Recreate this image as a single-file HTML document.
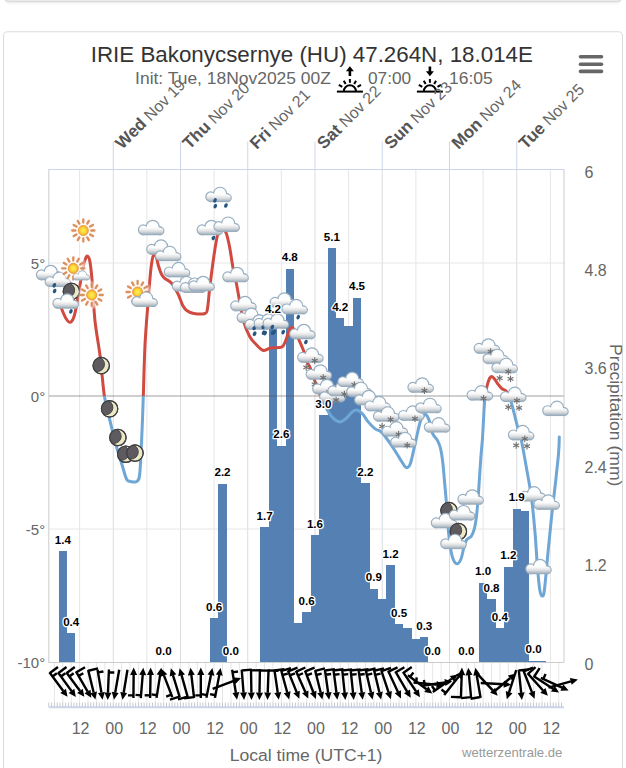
<!DOCTYPE html><html><head><meta charset="utf-8"><style>html,body{margin:0;padding:0;background:#fff;overflow:hidden}svg{display:block}</style></head><body><svg width="626" height="768" viewBox="0 0 626 768"><rect x="4.5" y="-30" width="617" height="34.5" rx="5" fill="#f7f7f7" stroke="none"/><rect x="4.5" y="-30" width="617" height="33" rx="4.5" fill="#efefef" stroke="none"/><rect x="4.5" y="-30" width="617" height="31.5" rx="4" fill="#eaeaea" stroke="#dadada" stroke-width="1"/><rect x="3.5" y="31.7" width="619" height="780" rx="4" fill="#fff" stroke="#dcdcdc" stroke-width="1.1"/><text x="90.77" y="61.7" font-family="Liberation Sans, sans-serif" font-size="22" fill="#333" textLength="442.16" lengthAdjust="spacingAndGlyphs">IRIE Bakonycsernye (HU) 47.264N, 18.014E</text><text x="135.1" y="83.6" font-family="Liberation Sans, sans-serif" font-size="17.4" fill="#666" textLength="195.8" lengthAdjust="spacingAndGlyphs">Init: Tue, 18Nov2025 00Z</text><text x="368.0" y="83.6" font-family="Liberation Sans, sans-serif" font-size="17.4" fill="#666" textLength="43.23" lengthAdjust="spacingAndGlyphs">07:00</text><text x="449.0" y="83.6" font-family="Liberation Sans, sans-serif" font-size="17.4" fill="#666" textLength="43.74" lengthAdjust="spacingAndGlyphs">16:05</text><g transform="translate(349.9,0)" stroke="#000" stroke-linecap="butt" fill="none"><line x1="-13" y1="91.6" x2="13" y2="91.6" stroke-width="2"/><path d="M-6,91.3 A6,6 0 0 1 6,91.3" stroke-width="2"/><line x1="0.00" y1="82.80" x2="0.00" y2="79.00" stroke-width="2"/><line x1="4.25" y1="83.94" x2="6.15" y2="80.65" stroke-width="2"/><line x1="7.62" y1="86.90" x2="11.09" y2="84.90" stroke-width="2"/><line x1="-4.25" y1="83.94" x2="-6.15" y2="80.65" stroke-width="2"/><line x1="-7.62" y1="86.90" x2="-11.09" y2="84.90" stroke-width="2"/><line x1="0" y1="70" x2="0" y2="76" stroke-width="2.6"/><path d="M-4,71.2 L0,66.3 L4,71.2 Z" fill="#000" stroke="none"/></g><g transform="translate(429.9,0)" stroke="#000" stroke-linecap="butt" fill="none"><line x1="-13" y1="91.6" x2="13" y2="91.6" stroke-width="2"/><path d="M-6,91.3 A6,6 0 0 1 6,91.3" stroke-width="2"/><line x1="0.00" y1="82.80" x2="0.00" y2="79.00" stroke-width="2"/><line x1="4.25" y1="83.94" x2="6.15" y2="80.65" stroke-width="2"/><line x1="7.62" y1="86.90" x2="11.09" y2="84.90" stroke-width="2"/><line x1="-4.25" y1="83.94" x2="-6.15" y2="80.65" stroke-width="2"/><line x1="-7.62" y1="86.90" x2="-11.09" y2="84.90" stroke-width="2"/><line x1="0" y1="66.5" x2="0" y2="72" stroke-width="2.6"/><path d="M-4,71.2 L0,76.2 L4,71.2 Z" fill="#000" stroke="none"/></g><line x1="580.5" y1="56.8" x2="601.5" y2="56.8" stroke="#666" stroke-width="3.6" stroke-linecap="round"/><line x1="580.5" y1="64.2" x2="601.5" y2="64.2" stroke="#666" stroke-width="3.6" stroke-linecap="round"/><line x1="580.5" y1="71.4" x2="601.5" y2="71.4" stroke="#666" stroke-width="3.6" stroke-linecap="round"/><line x1="79.62" y1="169.5" x2="79.62" y2="662.5" stroke="#e6e6e6" stroke-width="1"/><line x1="113.25" y1="169.5" x2="113.25" y2="662.5" stroke="#d9dce1" stroke-width="1"/><line x1="146.87" y1="169.5" x2="146.87" y2="662.5" stroke="#e6e6e6" stroke-width="1"/><line x1="180.49" y1="169.5" x2="180.49" y2="662.5" stroke="#d9dce1" stroke-width="1"/><line x1="214.12" y1="169.5" x2="214.12" y2="662.5" stroke="#e6e6e6" stroke-width="1"/><line x1="247.74" y1="169.5" x2="247.74" y2="662.5" stroke="#d9dce1" stroke-width="1"/><line x1="281.37" y1="169.5" x2="281.37" y2="662.5" stroke="#e6e6e6" stroke-width="1"/><line x1="314.99" y1="169.5" x2="314.99" y2="662.5" stroke="#d9dce1" stroke-width="1"/><line x1="348.61" y1="169.5" x2="348.61" y2="662.5" stroke="#e6e6e6" stroke-width="1"/><line x1="382.24" y1="169.5" x2="382.24" y2="662.5" stroke="#d9dce1" stroke-width="1"/><line x1="415.86" y1="169.5" x2="415.86" y2="662.5" stroke="#e6e6e6" stroke-width="1"/><line x1="449.49" y1="169.5" x2="449.49" y2="662.5" stroke="#d9dce1" stroke-width="1"/><line x1="483.11" y1="169.5" x2="483.11" y2="662.5" stroke="#e6e6e6" stroke-width="1"/><line x1="516.73" y1="169.5" x2="516.73" y2="662.5" stroke="#d9dce1" stroke-width="1"/><line x1="550.36" y1="169.5" x2="550.36" y2="662.5" stroke="#e6e6e6" stroke-width="1"/><line x1="48.8" y1="263.00" x2="564.0" y2="263.00" stroke="#e6e6e6" stroke-width="1"/><line x1="48.8" y1="529.00" x2="564.0" y2="529.00" stroke="#e6e6e6" stroke-width="1"/><line x1="54.40" y1="663" x2="54.40" y2="703" stroke="#e6e6e6" stroke-width="1"/><line x1="62.81" y1="663" x2="62.81" y2="703" stroke="#e6e6e6" stroke-width="1"/><line x1="71.22" y1="663" x2="71.22" y2="703" stroke="#e6e6e6" stroke-width="1"/><line x1="79.62" y1="663" x2="79.62" y2="703" stroke="#e6e6e6" stroke-width="1"/><line x1="88.03" y1="663" x2="88.03" y2="703" stroke="#e6e6e6" stroke-width="1"/><line x1="96.43" y1="663" x2="96.43" y2="703" stroke="#e6e6e6" stroke-width="1"/><line x1="104.84" y1="663" x2="104.84" y2="703" stroke="#e6e6e6" stroke-width="1"/><line x1="113.25" y1="663" x2="113.25" y2="703" stroke="#e6e6e6" stroke-width="1"/><line x1="121.65" y1="663" x2="121.65" y2="703" stroke="#e6e6e6" stroke-width="1"/><line x1="130.06" y1="663" x2="130.06" y2="703" stroke="#e6e6e6" stroke-width="1"/><line x1="138.46" y1="663" x2="138.46" y2="703" stroke="#e6e6e6" stroke-width="1"/><line x1="146.87" y1="663" x2="146.87" y2="703" stroke="#e6e6e6" stroke-width="1"/><line x1="155.28" y1="663" x2="155.28" y2="703" stroke="#e6e6e6" stroke-width="1"/><line x1="163.68" y1="663" x2="163.68" y2="703" stroke="#e6e6e6" stroke-width="1"/><line x1="172.09" y1="663" x2="172.09" y2="703" stroke="#e6e6e6" stroke-width="1"/><line x1="180.49" y1="663" x2="180.49" y2="703" stroke="#e6e6e6" stroke-width="1"/><line x1="188.90" y1="663" x2="188.90" y2="703" stroke="#e6e6e6" stroke-width="1"/><line x1="197.31" y1="663" x2="197.31" y2="703" stroke="#e6e6e6" stroke-width="1"/><line x1="205.71" y1="663" x2="205.71" y2="703" stroke="#e6e6e6" stroke-width="1"/><line x1="214.12" y1="663" x2="214.12" y2="703" stroke="#e6e6e6" stroke-width="1"/><line x1="222.52" y1="663" x2="222.52" y2="703" stroke="#e6e6e6" stroke-width="1"/><line x1="230.93" y1="663" x2="230.93" y2="703" stroke="#e6e6e6" stroke-width="1"/><line x1="239.34" y1="663" x2="239.34" y2="703" stroke="#e6e6e6" stroke-width="1"/><line x1="247.74" y1="663" x2="247.74" y2="703" stroke="#e6e6e6" stroke-width="1"/><line x1="256.15" y1="663" x2="256.15" y2="703" stroke="#e6e6e6" stroke-width="1"/><line x1="264.55" y1="663" x2="264.55" y2="703" stroke="#e6e6e6" stroke-width="1"/><line x1="272.96" y1="663" x2="272.96" y2="703" stroke="#e6e6e6" stroke-width="1"/><line x1="281.37" y1="663" x2="281.37" y2="703" stroke="#e6e6e6" stroke-width="1"/><line x1="289.77" y1="663" x2="289.77" y2="703" stroke="#e6e6e6" stroke-width="1"/><line x1="298.18" y1="663" x2="298.18" y2="703" stroke="#e6e6e6" stroke-width="1"/><line x1="306.58" y1="663" x2="306.58" y2="703" stroke="#e6e6e6" stroke-width="1"/><line x1="314.99" y1="663" x2="314.99" y2="703" stroke="#e6e6e6" stroke-width="1"/><line x1="323.40" y1="663" x2="323.40" y2="703" stroke="#e6e6e6" stroke-width="1"/><line x1="331.80" y1="663" x2="331.80" y2="703" stroke="#e6e6e6" stroke-width="1"/><line x1="340.21" y1="663" x2="340.21" y2="703" stroke="#e6e6e6" stroke-width="1"/><line x1="348.61" y1="663" x2="348.61" y2="703" stroke="#e6e6e6" stroke-width="1"/><line x1="357.02" y1="663" x2="357.02" y2="703" stroke="#e6e6e6" stroke-width="1"/><line x1="365.43" y1="663" x2="365.43" y2="703" stroke="#e6e6e6" stroke-width="1"/><line x1="373.83" y1="663" x2="373.83" y2="703" stroke="#e6e6e6" stroke-width="1"/><line x1="382.24" y1="663" x2="382.24" y2="703" stroke="#e6e6e6" stroke-width="1"/><line x1="390.64" y1="663" x2="390.64" y2="703" stroke="#e6e6e6" stroke-width="1"/><line x1="399.05" y1="663" x2="399.05" y2="703" stroke="#e6e6e6" stroke-width="1"/><line x1="407.46" y1="663" x2="407.46" y2="703" stroke="#e6e6e6" stroke-width="1"/><line x1="415.86" y1="663" x2="415.86" y2="703" stroke="#e6e6e6" stroke-width="1"/><line x1="424.27" y1="663" x2="424.27" y2="703" stroke="#e6e6e6" stroke-width="1"/><line x1="432.67" y1="663" x2="432.67" y2="703" stroke="#e6e6e6" stroke-width="1"/><line x1="441.08" y1="663" x2="441.08" y2="703" stroke="#e6e6e6" stroke-width="1"/><line x1="449.49" y1="663" x2="449.49" y2="703" stroke="#e6e6e6" stroke-width="1"/><line x1="457.89" y1="663" x2="457.89" y2="703" stroke="#e6e6e6" stroke-width="1"/><line x1="466.30" y1="663" x2="466.30" y2="703" stroke="#e6e6e6" stroke-width="1"/><line x1="474.70" y1="663" x2="474.70" y2="703" stroke="#e6e6e6" stroke-width="1"/><line x1="483.11" y1="663" x2="483.11" y2="703" stroke="#e6e6e6" stroke-width="1"/><line x1="491.52" y1="663" x2="491.52" y2="703" stroke="#e6e6e6" stroke-width="1"/><line x1="499.92" y1="663" x2="499.92" y2="703" stroke="#e6e6e6" stroke-width="1"/><line x1="508.33" y1="663" x2="508.33" y2="703" stroke="#e6e6e6" stroke-width="1"/><line x1="516.73" y1="663" x2="516.73" y2="703" stroke="#e6e6e6" stroke-width="1"/><line x1="525.14" y1="663" x2="525.14" y2="703" stroke="#e6e6e6" stroke-width="1"/><line x1="533.55" y1="663" x2="533.55" y2="703" stroke="#e6e6e6" stroke-width="1"/><line x1="541.95" y1="663" x2="541.95" y2="703" stroke="#e6e6e6" stroke-width="1"/><line x1="550.36" y1="663" x2="550.36" y2="703" stroke="#e6e6e6" stroke-width="1"/><line x1="558.76" y1="663" x2="558.76" y2="703" stroke="#e6e6e6" stroke-width="1"/><line x1="113.25" y1="141.5" x2="113.25" y2="169.5" stroke="#ccd6eb" stroke-width="1"/><line x1="180.49" y1="141.5" x2="180.49" y2="169.5" stroke="#ccd6eb" stroke-width="1"/><line x1="247.74" y1="141.5" x2="247.74" y2="169.5" stroke="#ccd6eb" stroke-width="1"/><line x1="314.99" y1="141.5" x2="314.99" y2="169.5" stroke="#ccd6eb" stroke-width="1"/><line x1="382.24" y1="141.5" x2="382.24" y2="169.5" stroke="#ccd6eb" stroke-width="1"/><line x1="449.49" y1="141.5" x2="449.49" y2="169.5" stroke="#ccd6eb" stroke-width="1"/><line x1="516.73" y1="141.5" x2="516.73" y2="169.5" stroke="#ccd6eb" stroke-width="1"/><g fill="#5480b4" shape-rendering="crispEdges"><rect x="58.61" y="551.00" width="8.41" height="111.50"/><rect x="67.01" y="633.00" width="8.41" height="29.50"/><rect x="209.92" y="618.40" width="8.41" height="44.10"/><rect x="218.32" y="483.80" width="8.41" height="178.70"/><rect x="260.35" y="527.30" width="8.41" height="135.20"/><rect x="268.76" y="320.80" width="8.41" height="341.70"/><rect x="277.16" y="445.70" width="8.41" height="216.80"/><rect x="285.57" y="268.50" width="8.41" height="394.00"/><rect x="293.98" y="622.80" width="8.41" height="39.70"/><rect x="302.38" y="612.10" width="8.41" height="50.40"/><rect x="310.79" y="535.30" width="8.41" height="127.20"/><rect x="319.19" y="415.00" width="8.41" height="247.50"/><rect x="327.60" y="248.10" width="8.41" height="414.40"/><rect x="336.00" y="317.90" width="8.41" height="344.60"/><rect x="344.41" y="325.50" width="8.41" height="337.00"/><rect x="352.82" y="297.60" width="8.41" height="364.90"/><rect x="361.22" y="483.30" width="8.41" height="179.20"/><rect x="369.63" y="588.70" width="8.41" height="73.80"/><rect x="378.03" y="598.50" width="8.41" height="64.00"/><rect x="386.44" y="565.10" width="8.41" height="97.40"/><rect x="394.85" y="624.00" width="8.41" height="38.50"/><rect x="403.25" y="628.00" width="8.41" height="34.50"/><rect x="411.66" y="638.50" width="8.41" height="24.00"/><rect x="420.07" y="637.20" width="8.41" height="25.30"/><rect x="478.91" y="582.70" width="8.41" height="79.80"/><rect x="487.31" y="599.10" width="8.41" height="63.40"/><rect x="495.72" y="628.00" width="8.41" height="34.50"/><rect x="504.12" y="566.80" width="8.41" height="95.70"/><rect x="512.53" y="508.60" width="8.41" height="153.90"/><rect x="520.94" y="511.10" width="8.41" height="151.40"/><rect x="529.34" y="660.80" width="8.41" height="1.70"/><rect x="537.75" y="660.80" width="8.41" height="1.70"/></g><line x1="48.8" y1="396" x2="564.0" y2="396" stroke="rgba(80,80,80,0.55)" stroke-width="1.2"/><path d="M48.8,169.5 V662.5 H564.0 V169.5" fill="none" stroke="#cccccc" stroke-width="1"/><line x1="48.3" y1="169.5" x2="564.5" y2="169.5" stroke="#ccd6eb" stroke-width="1"/><defs><clipPath id="cpa"><rect x="0" y="0" width="626" height="396"/></clipPath><clipPath id="cpb"><rect x="0" y="396" width="626" height="400"/></clipPath></defs><path d="M59.50,302.50 C59.87,303.58 60.62,306.33 61.70,309.00 C62.78,311.67 64.55,316.28 66.00,318.50 C67.45,320.72 68.98,322.88 70.40,322.30 C71.82,321.72 73.15,319.72 74.50,315.00 C75.85,310.28 77.17,301.50 78.50,294.00 C79.83,286.50 81.33,275.92 82.50,270.00 C83.67,264.08 84.63,260.78 85.50,258.50 C86.37,256.22 86.95,255.72 87.70,256.30 C88.45,256.88 89.20,257.22 90.00,262.00 C90.80,266.78 91.67,275.17 92.50,285.00 C93.33,294.83 93.72,309.05 95.00,321.00 C96.28,332.95 98.63,344.17 100.20,356.70 C101.77,369.23 102.83,385.78 104.40,396.20 C105.97,406.62 107.70,411.20 109.60,419.20 C111.50,427.20 113.72,436.57 115.80,444.20 C117.88,451.83 120.32,459.20 122.10,465.00 C123.88,470.80 125.18,476.28 126.50,479.00 C127.82,481.72 128.25,480.92 130.00,481.30 C131.75,481.68 135.37,482.68 137.00,481.30 C138.63,479.92 138.98,480.92 139.80,473.00 C140.62,465.08 141.32,446.60 141.90,433.80 C142.48,421.00 142.78,411.00 143.30,396.20 C143.82,381.40 144.22,360.53 145.00,345.00 C145.78,329.47 147.00,315.83 148.00,303.00 C149.00,290.17 150.08,276.00 151.00,268.00 C151.92,260.00 152.67,257.00 153.50,255.00 C154.33,253.00 155.17,254.17 156.00,256.00 C156.83,257.83 157.60,263.00 158.50,266.00 C159.40,269.00 160.37,271.93 161.40,274.00 C162.43,276.07 163.03,276.90 164.70,278.40 C166.37,279.90 169.17,280.38 171.40,283.00 C173.63,285.62 176.23,290.40 178.10,294.10 C179.97,297.80 181.10,302.42 182.60,305.20 C184.10,307.98 185.23,309.42 187.10,310.80 C188.97,312.18 190.82,313.05 193.80,313.50 C196.78,313.95 202.72,314.33 205.00,313.50 C207.28,312.67 206.70,312.87 207.50,308.50 C208.30,304.13 208.73,296.05 209.80,287.30 C210.87,278.55 212.65,264.55 213.90,256.00 C215.15,247.45 216.28,240.33 217.30,236.00 C218.32,231.67 219.05,231.08 220.00,230.00 C220.95,228.92 221.97,229.00 223.00,229.50 C224.03,230.00 225.10,230.08 226.20,233.00 C227.30,235.92 228.48,241.30 229.60,247.00 C230.72,252.70 231.78,261.20 232.90,267.20 C234.02,273.20 234.98,276.28 236.30,283.00 C237.62,289.72 239.50,300.82 240.80,307.50 C242.10,314.18 242.62,318.27 244.10,323.10 C245.58,327.93 247.88,333.13 249.70,336.50 C251.52,339.87 252.82,341.00 255.00,343.30 C257.18,345.60 260.20,349.52 262.80,350.30 C265.40,351.08 267.47,348.52 270.60,348.00 C273.73,347.48 279.12,348.37 281.60,347.20 C284.08,346.03 284.20,343.87 285.50,341.00 C286.80,338.13 288.32,332.25 289.40,330.00 C290.48,327.75 291.07,327.33 292.00,327.50 C292.93,327.67 293.87,329.02 295.00,331.00 C296.13,332.98 297.40,336.18 298.80,339.40 C300.20,342.62 302.10,346.70 303.40,350.30 C304.70,353.90 305.45,358.05 306.60,361.00 C307.75,363.95 308.90,364.57 310.30,368.00 C311.70,371.43 313.43,377.27 315.00,381.60 C316.57,385.93 318.37,390.77 319.70,394.00 C321.03,397.23 321.82,398.50 323.00,401.00 C324.18,403.50 325.23,406.27 326.80,409.00 C328.37,411.73 330.27,415.25 332.40,417.40 C334.53,419.55 337.37,421.70 339.60,421.90 C341.83,422.10 343.65,420.28 345.80,418.60 C347.95,416.92 350.55,413.20 352.50,411.80 C354.45,410.40 355.82,409.82 357.50,410.20 C359.18,410.58 360.82,412.15 362.60,414.10 C364.38,416.05 366.15,419.48 368.20,421.90 C370.25,424.32 372.93,427.08 374.90,428.60 C376.87,430.12 378.48,429.93 380.00,431.00 C381.52,432.07 382.02,432.50 384.00,435.00 C385.98,437.50 389.28,442.10 391.90,446.00 C394.52,449.90 397.52,454.98 399.70,458.40 C401.88,461.82 403.70,464.98 405.00,466.50 C406.30,468.02 406.57,468.08 407.50,467.50 C408.43,466.92 409.30,467.12 410.60,463.00 C411.90,458.88 413.73,449.55 415.30,442.80 C416.87,436.05 418.70,426.92 420.00,422.50 C421.30,418.08 422.18,417.68 423.10,416.30 C424.02,414.92 424.45,413.42 425.50,414.20 C426.55,414.98 428.23,417.80 429.40,421.00 C430.57,424.20 431.20,430.23 432.50,433.40 C433.80,436.57 435.90,437.65 437.20,440.00 C438.50,442.35 439.38,443.90 440.30,447.50 C441.22,451.10 441.92,455.03 442.70,461.60 C443.48,468.17 444.35,479.57 445.00,486.90 C445.65,494.23 446.08,498.83 446.60,505.60 C447.12,512.37 447.43,520.30 448.10,527.50 C448.77,534.70 449.70,543.38 450.60,548.80 C451.50,554.22 452.38,557.50 453.50,560.00 C454.62,562.50 456.05,563.97 457.30,563.80 C458.55,563.63 459.95,561.50 461.00,559.00 C462.05,556.50 462.70,551.95 463.60,548.80 C464.50,545.65 465.13,542.18 466.40,540.10 C467.67,538.02 469.92,538.05 471.20,536.30 C472.48,534.55 473.30,532.32 474.10,529.60 C474.90,526.88 475.38,524.52 476.00,520.00 C476.62,515.48 477.23,509.33 477.80,502.50 C478.37,495.67 478.87,486.82 479.40,479.00 C479.93,471.18 480.48,462.43 481.00,455.60 C481.52,448.77 481.88,447.22 482.50,438.00 C483.12,428.78 483.95,408.92 484.70,400.30 C485.45,391.68 486.20,389.93 487.00,386.30 C487.80,382.67 488.72,380.13 489.50,378.50 C490.28,376.87 490.87,376.42 491.70,376.50 C492.53,376.58 493.58,377.90 494.50,379.00 C495.42,380.10 495.97,381.50 497.20,383.10 C498.43,384.70 500.33,387.20 501.90,388.60 C503.47,390.00 505.07,389.32 506.60,391.50 C508.13,393.68 509.32,395.95 511.10,401.70 C512.88,407.45 515.60,419.62 517.30,426.00 C519.00,432.38 519.70,432.58 521.30,440.00 C522.90,447.42 525.18,460.73 526.90,470.50 C528.62,480.27 530.23,488.07 531.60,498.60 C532.97,509.13 534.13,522.37 535.10,533.70 C536.07,545.03 536.62,557.22 537.40,566.60 C538.18,575.98 539.02,585.10 539.80,590.00 C540.58,594.90 541.33,596.00 542.10,596.00 C542.87,596.00 543.42,597.25 544.40,590.00 C545.38,582.75 546.82,564.62 548.00,552.50 C549.18,540.38 550.33,528.23 551.50,517.30 C552.67,506.37 553.83,497.45 555.00,486.90 C556.17,476.35 557.78,462.32 558.50,454.00 C559.22,445.68 559.17,439.83 559.30,437.00" fill="none" stroke="#d04a40" stroke-width="3" stroke-linejoin="round" stroke-linecap="round" clip-path="url(#cpa)"/><path d="M59.50,302.50 C59.87,303.58 60.62,306.33 61.70,309.00 C62.78,311.67 64.55,316.28 66.00,318.50 C67.45,320.72 68.98,322.88 70.40,322.30 C71.82,321.72 73.15,319.72 74.50,315.00 C75.85,310.28 77.17,301.50 78.50,294.00 C79.83,286.50 81.33,275.92 82.50,270.00 C83.67,264.08 84.63,260.78 85.50,258.50 C86.37,256.22 86.95,255.72 87.70,256.30 C88.45,256.88 89.20,257.22 90.00,262.00 C90.80,266.78 91.67,275.17 92.50,285.00 C93.33,294.83 93.72,309.05 95.00,321.00 C96.28,332.95 98.63,344.17 100.20,356.70 C101.77,369.23 102.83,385.78 104.40,396.20 C105.97,406.62 107.70,411.20 109.60,419.20 C111.50,427.20 113.72,436.57 115.80,444.20 C117.88,451.83 120.32,459.20 122.10,465.00 C123.88,470.80 125.18,476.28 126.50,479.00 C127.82,481.72 128.25,480.92 130.00,481.30 C131.75,481.68 135.37,482.68 137.00,481.30 C138.63,479.92 138.98,480.92 139.80,473.00 C140.62,465.08 141.32,446.60 141.90,433.80 C142.48,421.00 142.78,411.00 143.30,396.20 C143.82,381.40 144.22,360.53 145.00,345.00 C145.78,329.47 147.00,315.83 148.00,303.00 C149.00,290.17 150.08,276.00 151.00,268.00 C151.92,260.00 152.67,257.00 153.50,255.00 C154.33,253.00 155.17,254.17 156.00,256.00 C156.83,257.83 157.60,263.00 158.50,266.00 C159.40,269.00 160.37,271.93 161.40,274.00 C162.43,276.07 163.03,276.90 164.70,278.40 C166.37,279.90 169.17,280.38 171.40,283.00 C173.63,285.62 176.23,290.40 178.10,294.10 C179.97,297.80 181.10,302.42 182.60,305.20 C184.10,307.98 185.23,309.42 187.10,310.80 C188.97,312.18 190.82,313.05 193.80,313.50 C196.78,313.95 202.72,314.33 205.00,313.50 C207.28,312.67 206.70,312.87 207.50,308.50 C208.30,304.13 208.73,296.05 209.80,287.30 C210.87,278.55 212.65,264.55 213.90,256.00 C215.15,247.45 216.28,240.33 217.30,236.00 C218.32,231.67 219.05,231.08 220.00,230.00 C220.95,228.92 221.97,229.00 223.00,229.50 C224.03,230.00 225.10,230.08 226.20,233.00 C227.30,235.92 228.48,241.30 229.60,247.00 C230.72,252.70 231.78,261.20 232.90,267.20 C234.02,273.20 234.98,276.28 236.30,283.00 C237.62,289.72 239.50,300.82 240.80,307.50 C242.10,314.18 242.62,318.27 244.10,323.10 C245.58,327.93 247.88,333.13 249.70,336.50 C251.52,339.87 252.82,341.00 255.00,343.30 C257.18,345.60 260.20,349.52 262.80,350.30 C265.40,351.08 267.47,348.52 270.60,348.00 C273.73,347.48 279.12,348.37 281.60,347.20 C284.08,346.03 284.20,343.87 285.50,341.00 C286.80,338.13 288.32,332.25 289.40,330.00 C290.48,327.75 291.07,327.33 292.00,327.50 C292.93,327.67 293.87,329.02 295.00,331.00 C296.13,332.98 297.40,336.18 298.80,339.40 C300.20,342.62 302.10,346.70 303.40,350.30 C304.70,353.90 305.45,358.05 306.60,361.00 C307.75,363.95 308.90,364.57 310.30,368.00 C311.70,371.43 313.43,377.27 315.00,381.60 C316.57,385.93 318.37,390.77 319.70,394.00 C321.03,397.23 321.82,398.50 323.00,401.00 C324.18,403.50 325.23,406.27 326.80,409.00 C328.37,411.73 330.27,415.25 332.40,417.40 C334.53,419.55 337.37,421.70 339.60,421.90 C341.83,422.10 343.65,420.28 345.80,418.60 C347.95,416.92 350.55,413.20 352.50,411.80 C354.45,410.40 355.82,409.82 357.50,410.20 C359.18,410.58 360.82,412.15 362.60,414.10 C364.38,416.05 366.15,419.48 368.20,421.90 C370.25,424.32 372.93,427.08 374.90,428.60 C376.87,430.12 378.48,429.93 380.00,431.00 C381.52,432.07 382.02,432.50 384.00,435.00 C385.98,437.50 389.28,442.10 391.90,446.00 C394.52,449.90 397.52,454.98 399.70,458.40 C401.88,461.82 403.70,464.98 405.00,466.50 C406.30,468.02 406.57,468.08 407.50,467.50 C408.43,466.92 409.30,467.12 410.60,463.00 C411.90,458.88 413.73,449.55 415.30,442.80 C416.87,436.05 418.70,426.92 420.00,422.50 C421.30,418.08 422.18,417.68 423.10,416.30 C424.02,414.92 424.45,413.42 425.50,414.20 C426.55,414.98 428.23,417.80 429.40,421.00 C430.57,424.20 431.20,430.23 432.50,433.40 C433.80,436.57 435.90,437.65 437.20,440.00 C438.50,442.35 439.38,443.90 440.30,447.50 C441.22,451.10 441.92,455.03 442.70,461.60 C443.48,468.17 444.35,479.57 445.00,486.90 C445.65,494.23 446.08,498.83 446.60,505.60 C447.12,512.37 447.43,520.30 448.10,527.50 C448.77,534.70 449.70,543.38 450.60,548.80 C451.50,554.22 452.38,557.50 453.50,560.00 C454.62,562.50 456.05,563.97 457.30,563.80 C458.55,563.63 459.95,561.50 461.00,559.00 C462.05,556.50 462.70,551.95 463.60,548.80 C464.50,545.65 465.13,542.18 466.40,540.10 C467.67,538.02 469.92,538.05 471.20,536.30 C472.48,534.55 473.30,532.32 474.10,529.60 C474.90,526.88 475.38,524.52 476.00,520.00 C476.62,515.48 477.23,509.33 477.80,502.50 C478.37,495.67 478.87,486.82 479.40,479.00 C479.93,471.18 480.48,462.43 481.00,455.60 C481.52,448.77 481.88,447.22 482.50,438.00 C483.12,428.78 483.95,408.92 484.70,400.30 C485.45,391.68 486.20,389.93 487.00,386.30 C487.80,382.67 488.72,380.13 489.50,378.50 C490.28,376.87 490.87,376.42 491.70,376.50 C492.53,376.58 493.58,377.90 494.50,379.00 C495.42,380.10 495.97,381.50 497.20,383.10 C498.43,384.70 500.33,387.20 501.90,388.60 C503.47,390.00 505.07,389.32 506.60,391.50 C508.13,393.68 509.32,395.95 511.10,401.70 C512.88,407.45 515.60,419.62 517.30,426.00 C519.00,432.38 519.70,432.58 521.30,440.00 C522.90,447.42 525.18,460.73 526.90,470.50 C528.62,480.27 530.23,488.07 531.60,498.60 C532.97,509.13 534.13,522.37 535.10,533.70 C536.07,545.03 536.62,557.22 537.40,566.60 C538.18,575.98 539.02,585.10 539.80,590.00 C540.58,594.90 541.33,596.00 542.10,596.00 C542.87,596.00 543.42,597.25 544.40,590.00 C545.38,582.75 546.82,564.62 548.00,552.50 C549.18,540.38 550.33,528.23 551.50,517.30 C552.67,506.37 553.83,497.45 555.00,486.90 C556.17,476.35 557.78,462.32 558.50,454.00 C559.22,445.68 559.17,439.83 559.30,437.00" fill="none" stroke="#6ea6d6" stroke-width="3" stroke-linejoin="round" stroke-linecap="round" clip-path="url(#cpb)"/><defs><linearGradient id="cg" gradientUnits="userSpaceOnUse" x1="0" y1="-6.6" x2="0" y2="6.6"><stop offset="0" stop-color="#fbfeff"/><stop offset="0.52" stop-color="#fdfdfd"/><stop offset="0.64" stop-color="#f1f0f0"/><stop offset="0.78" stop-color="#dcdfe2"/><stop offset="0.9" stop-color="#c1c9cf"/><stop offset="1" stop-color="#a8b4bd"/></linearGradient><radialGradient id="sg" cx="0" cy="0" r="5.4" gradientUnits="userSpaceOnUse"><stop offset="0" stop-color="#fff34d"/><stop offset="0.55" stop-color="#fbd43a"/><stop offset="0.85" stop-color="#f4ad2b"/><stop offset="1" stop-color="#e98f2e"/></radialGradient><g id="cl"><g fill="#98adbf" stroke="#98adbf" stroke-width="2.3"><circle cx="-8" cy="2.3" r="4.3"/><circle cx="1.4" cy="-0.6" r="6"/><circle cx="8.8" cy="3.4" r="3.2"/><rect x="-8" y="0" width="16.8" height="6.6"/></g><g fill="url(#cg)"><circle cx="-8" cy="2.3" r="4.3"/><circle cx="1.4" cy="-0.6" r="6"/><circle cx="8.8" cy="3.4" r="3.2"/><rect x="-8" y="0" width="16.8" height="6.6"/></g></g><g id="sn"><circle r="15" fill="url(#sh)"/><g stroke="#d88752" stroke-width="2.3" stroke-linecap="round" opacity="0.92"><line x1="0.00" y1="-7.90" x2="0.00" y2="-11.10"/><line x1="3.95" y1="-6.84" x2="5.55" y2="-9.61"/><line x1="6.84" y1="-3.95" x2="9.61" y2="-5.55"/><line x1="7.90" y1="-0.00" x2="11.10" y2="-0.00"/><line x1="6.84" y1="3.95" x2="9.61" y2="5.55"/><line x1="3.95" y1="6.84" x2="5.55" y2="9.61"/><line x1="0.00" y1="7.90" x2="0.00" y2="11.10"/><line x1="-3.95" y1="6.84" x2="-5.55" y2="9.61"/><line x1="-6.84" y1="3.95" x2="-9.61" y2="5.55"/><line x1="-7.90" y1="0.00" x2="-11.10" y2="0.00"/><line x1="-6.84" y1="-3.95" x2="-9.61" y2="-5.55"/><line x1="-3.95" y1="-6.84" x2="-5.55" y2="-9.61"/></g><circle r="5.1" fill="url(#sg)" stroke="#e9963a" stroke-width="0.8"/></g><radialGradient id="sh" cx="0" cy="0" r="15" gradientUnits="userSpaceOnUse"><stop offset="0" stop-color="#fff" stop-opacity="0.8"/><stop offset="0.7" stop-color="#fff8f4" stop-opacity="0.7"/><stop offset="1" stop-color="#fff" stop-opacity="0"/></radialGradient><clipPath id="mclip"><circle r="8.2"/></clipPath><g id="mn"><circle r="8.2" fill="#ece8c8" stroke="#3d3d3d" stroke-width="1.2"/><g clip-path="url(#mclip)"><circle cx="-4" cy="-1.3" r="7.3" fill="#5d5b5f" stroke="#404040" stroke-width="0.9"/></g><circle r="8.2" fill="none" stroke="#404040" stroke-width="1.1"/></g><ellipse id="dr" rx="1.7" ry="2.4" fill="#275684" transform="rotate(25)"/><g id="fk" stroke="#6e6e6e" stroke-width="1.1"><line x1="0" y1="-3.3" x2="0" y2="3.3"/><line x1="-2.9" y1="-1.65" x2="2.9" y2="1.65"/><line x1="-2.9" y1="1.65" x2="2.9" y2="-1.65"/></g></defs><g><use href="#cl" x="49.30" y="272.50"/><use href="#cl" x="58.00" y="279.30"/><use href="#dr" x="54.30" y="285.30"/><use href="#dr" x="54.60" y="291.00"/><use href="#dr" x="65.20" y="290.40"/><use href="#mn" x="71.40" y="291.40"/><use href="#cl" x="65.80" y="301.00"/><use href="#dr" x="70.90" y="311.40"/><use href="#sn" x="73.30" y="268.40"/><use href="#cl" transform="translate(81.50,275.40) scale(0.64)"/><use href="#sn" x="83.30" y="230.50"/><use href="#sn" x="91.70" y="295.00"/><use href="#mn" x="101.20" y="365.60"/><use href="#mn" x="109.60" y="408.80"/><use href="#mn" x="117.90" y="437.50"/><use href="#mn" x="125.80" y="454.20"/><use href="#mn" x="135.00" y="453.10"/><use href="#sn" x="137.60" y="292.00"/><use href="#cl" x="144.80" y="299.20"/><use href="#cl" x="151.30" y="227.50"/><use href="#cl" x="159.60" y="247.00"/><use href="#cl" x="168.30" y="253.40"/><use href="#cl" x="177.20" y="269.60"/><use href="#cl" x="185.10" y="283.70"/><use href="#cl" x="193.30" y="285.20"/><use href="#cl" x="201.70" y="283.50"/><use href="#cl" x="210.00" y="227.50"/><use href="#dr" x="213.40" y="238.00"/><use href="#cl" x="218.70" y="194.40"/><use href="#dr" x="215.00" y="200.40"/><use href="#dr" x="215.30" y="206.10"/><use href="#dr" x="225.90" y="205.50"/><use href="#cl" x="226.80" y="224.20"/><use href="#cl" x="235.70" y="274.50"/><use href="#cl" x="243.60" y="303.50"/><use href="#cl" x="250.00" y="315.30"/><use href="#cl" x="258.00" y="322.00"/><use href="#dr" x="254.30" y="328.00"/><use href="#dr" x="254.60" y="333.70"/><use href="#dr" x="265.20" y="333.10"/><use href="#cl" x="267.00" y="321.00"/><use href="#dr" x="263.30" y="327.00"/><use href="#dr" x="263.60" y="332.70"/><use href="#dr" x="274.20" y="332.10"/><use href="#cl" x="276.00" y="321.00"/><use href="#dr" x="272.30" y="327.00"/><use href="#dr" x="272.60" y="332.70"/><use href="#dr" x="283.20" y="332.10"/><use href="#cl" x="283.00" y="300.00"/><use href="#cl" x="294.80" y="306.60"/><use href="#dr" x="298.20" y="317.10"/><use href="#cl" x="302.50" y="331.50"/><use href="#dr" x="305.90" y="342.00"/><use href="#cl" x="310.50" y="355.00"/><use href="#fk" x="314.70" y="360.60"/><use href="#fk" x="306.20" y="367.40"/><use href="#cl" x="319.00" y="372.00"/><use href="#fk" x="323.20" y="377.60"/><use href="#fk" x="314.70" y="384.40"/><use href="#cl" x="325.50" y="386.50"/><use href="#fk" x="329.10" y="392.10"/><use href="#cl" x="332.50" y="394.50"/><use href="#fk" x="336.10" y="400.10"/><use href="#cl" x="340.80" y="388.50"/><use href="#fk" x="344.40" y="394.10"/><use href="#cl" x="350.80" y="379.30"/><use href="#fk" x="354.40" y="384.90"/><use href="#cl" x="359.50" y="389.40"/><use href="#cl" x="367.40" y="397.50"/><use href="#cl" x="377.80" y="403.60"/><use href="#cl" x="386.40" y="413.90"/><use href="#fk" x="390.60" y="419.50"/><use href="#fk" x="382.10" y="426.30"/><use href="#cl" x="395.00" y="428.80"/><use href="#fk" x="398.60" y="434.40"/><use href="#cl" x="403.60" y="439.70"/><use href="#fk" x="407.20" y="445.30"/><use href="#cl" x="411.40" y="413.10"/><use href="#fk" x="415.00" y="418.70"/><use href="#cl" x="420.80" y="385.00"/><use href="#fk" x="424.40" y="390.60"/><use href="#cl" x="428.60" y="405.40"/><use href="#cl" x="437.20" y="424.80"/><use href="#mn" x="449.00" y="510.60"/><use href="#cl" x="444.20" y="520.50"/><use href="#mn" x="458.40" y="531.50"/><use href="#cl" x="453.60" y="541.40"/><use href="#cl" x="462.20" y="512.70"/><use href="#cl" x="470.80" y="497.00"/><use href="#cl" x="480.00" y="392.80"/><use href="#fk" x="483.60" y="398.40"/><use href="#cl" x="487.00" y="346.00"/><use href="#fk" x="490.60" y="351.60"/><use href="#cl" x="496.00" y="356.40"/><use href="#cl" x="504.80" y="365.40"/><use href="#fk" x="508.30" y="371.70"/><use href="#fk" x="499.70" y="378.20"/><use href="#fk" x="510.50" y="378.90"/><use href="#cl" x="513.40" y="394.30"/><use href="#fk" x="516.90" y="400.60"/><use href="#fk" x="508.30" y="407.10"/><use href="#fk" x="519.10" y="407.80"/><use href="#cl" x="521.30" y="432.60"/><use href="#fk" x="524.80" y="438.90"/><use href="#fk" x="516.20" y="445.40"/><use href="#fk" x="527.00" y="446.10"/><use href="#cl" x="532.70" y="493.80"/><use href="#cl" x="538.60" y="566.50"/><use href="#cl" x="546.80" y="502.10"/><use href="#cl" x="555.60" y="408.30"/></g><g font-family="Liberation Sans, sans-serif" font-size="11.6" font-weight="bold" fill="#000" stroke="#fff" stroke-width="2.6" stroke-linejoin="round" paint-order="stroke" text-anchor="middle"><text x="62.81" y="543.60">1.4</text><text x="71.21" y="625.60">0.4</text><text x="163.68" y="654.60">0.0</text><text x="214.12" y="611.00">0.6</text><text x="222.52" y="476.40">2.2</text><text x="230.93" y="654.60">0.0</text><text x="264.55" y="519.90">1.7</text><text x="272.96" y="313.40">4.2</text><text x="281.36" y="438.30">2.6</text><text x="289.77" y="261.10">4.8</text><text x="306.58" y="604.70">0.6</text><text x="314.99" y="527.90">1.6</text><text x="323.39" y="407.60">3.0</text><text x="331.80" y="240.70">5.1</text><text x="340.20" y="310.50">4.2</text><text x="357.02" y="290.20">4.5</text><text x="365.42" y="475.90">2.2</text><text x="373.83" y="581.30">0.9</text><text x="390.64" y="557.70">1.2</text><text x="399.05" y="616.60">0.5</text><text x="424.27" y="629.80">0.3</text><text x="432.67" y="654.60">0.0</text><text x="466.30" y="654.60">0.0</text><text x="483.11" y="575.30">1.0</text><text x="491.51" y="591.70">0.8</text><text x="499.92" y="620.60">0.4</text><text x="508.32" y="559.40">1.2</text><text x="516.73" y="501.20">1.9</text><text x="533.54" y="653.40">0.0</text></g><g font-family="Liberation Sans, sans-serif" font-size="15" fill="#666" text-anchor="end"><text x="45.2" y="268.6">5°</text><text x="45.2" y="401.6">0°</text><text x="45.2" y="534.6">-5°</text><text x="45.2" y="667.9">-10°</text></g><g font-family="Liberation Sans, sans-serif" font-size="16" fill="#666"><text x="584.5" y="177.5">6</text><text x="584.5" y="275.9">4.8</text><text x="584.5" y="374.3">3.6</text><text x="584.5" y="472.7">2.4</text><text x="584.5" y="571.1">1.2</text><text x="584.5" y="669.5">0</text></g><text transform="translate(610.3,344.1) rotate(90)" font-family="Liberation Sans, sans-serif" font-size="16" fill="#666" textLength="142.29" lengthAdjust="spacingAndGlyphs">Precipitation (mm)</text><text transform="translate(122.25,150.0) rotate(-45)" font-family="Liberation Sans, sans-serif" font-size="16" fill="#666"><tspan font-weight="bold" font-size="17" fill="#555">Wed</tspan> Nov 19</text><text transform="translate(189.49,150.0) rotate(-45)" font-family="Liberation Sans, sans-serif" font-size="16" fill="#666"><tspan font-weight="bold" font-size="17" fill="#555">Thu</tspan> Nov 20</text><text transform="translate(256.74,150.0) rotate(-45)" font-family="Liberation Sans, sans-serif" font-size="16" fill="#666"><tspan font-weight="bold" font-size="17" fill="#555">Fri</tspan> Nov 21</text><text transform="translate(323.99,150.0) rotate(-45)" font-family="Liberation Sans, sans-serif" font-size="16" fill="#666"><tspan font-weight="bold" font-size="17" fill="#555">Sat</tspan> Nov 22</text><text transform="translate(391.24,150.0) rotate(-45)" font-family="Liberation Sans, sans-serif" font-size="16" fill="#666"><tspan font-weight="bold" font-size="17" fill="#555">Sun</tspan> Nov 23</text><text transform="translate(458.49,150.0) rotate(-45)" font-family="Liberation Sans, sans-serif" font-size="16" fill="#666"><tspan font-weight="bold" font-size="17" fill="#555">Mon</tspan> Nov 24</text><text transform="translate(525.73,150.0) rotate(-45)" font-family="Liberation Sans, sans-serif" font-size="16" fill="#666"><tspan font-weight="bold" font-size="17" fill="#555">Tue</tspan> Nov 25</text><line x1="48.8" y1="707.3" x2="564.0" y2="707.3" stroke="#ccd6eb" stroke-width="2"/><path d="M48.80,702.6V707M51.60,702.6V707M54.40,702.6V707M57.21,702.6V707M60.01,702.6V707M62.81,702.6V707M65.61,702.6V707M68.41,702.6V707M71.22,702.6V707M74.02,702.6V707M76.82,702.6V707M79.62,702.6V707M82.42,702.6V707M85.23,702.6V707M88.03,702.6V707M90.83,702.6V707M93.63,702.6V707M96.43,702.6V707M99.24,702.6V707M102.04,702.6V707M104.84,702.6V707M107.64,702.6V707M110.44,702.6V707M113.25,702.6V707M116.05,702.6V707M118.85,702.6V707M121.65,702.6V707M124.45,702.6V707M127.26,702.6V707M130.06,702.6V707M132.86,702.6V707M135.66,702.6V707M138.46,702.6V707M141.27,702.6V707M144.07,702.6V707M146.87,702.6V707M149.67,702.6V707M152.47,702.6V707M155.28,702.6V707M158.08,702.6V707M160.88,702.6V707M163.68,702.6V707M166.48,702.6V707M169.29,702.6V707M172.09,702.6V707M174.89,702.6V707M177.69,702.6V707M180.49,702.6V707M183.30,702.6V707M186.10,702.6V707M188.90,702.6V707M191.70,702.6V707M194.50,702.6V707M197.31,702.6V707M200.11,702.6V707M202.91,702.6V707M205.71,702.6V707M208.51,702.6V707M211.32,702.6V707M214.12,702.6V707M216.92,702.6V707M219.72,702.6V707M222.52,702.6V707M225.33,702.6V707M228.13,702.6V707M230.93,702.6V707M233.73,702.6V707M236.53,702.6V707M239.34,702.6V707M242.14,702.6V707M244.94,702.6V707M247.74,702.6V707M250.54,702.6V707M253.35,702.6V707M256.15,702.6V707M258.95,702.6V707M261.75,702.6V707M264.55,702.6V707M267.36,702.6V707M270.16,702.6V707M272.96,702.6V707M275.76,702.6V707M278.56,702.6V707M281.37,702.6V707M284.17,702.6V707M286.97,702.6V707M289.77,702.6V707M292.57,702.6V707M295.38,702.6V707M298.18,702.6V707M300.98,702.6V707M303.78,702.6V707M306.58,702.6V707M309.39,702.6V707M312.19,702.6V707M314.99,702.6V707M317.79,702.6V707M320.59,702.6V707M323.40,702.6V707M326.20,702.6V707M329.00,702.6V707M331.80,702.6V707M334.60,702.6V707M337.41,702.6V707M340.21,702.6V707M343.01,702.6V707M345.81,702.6V707M348.61,702.6V707M351.42,702.6V707M354.22,702.6V707M357.02,702.6V707M359.82,702.6V707M362.62,702.6V707M365.43,702.6V707M368.23,702.6V707M371.03,702.6V707M373.83,702.6V707M376.63,702.6V707M379.44,702.6V707M382.24,702.6V707M385.04,702.6V707M387.84,702.6V707M390.64,702.6V707M393.45,702.6V707M396.25,702.6V707M399.05,702.6V707M401.85,702.6V707M404.65,702.6V707M407.46,702.6V707M410.26,702.6V707M413.06,702.6V707M415.86,702.6V707M418.66,702.6V707M421.47,702.6V707M424.27,702.6V707M427.07,702.6V707M429.87,702.6V707M432.67,702.6V707M435.48,702.6V707M438.28,702.6V707M441.08,702.6V707M443.88,702.6V707M446.68,702.6V707M449.49,702.6V707M452.29,702.6V707M455.09,702.6V707M457.89,702.6V707M460.69,702.6V707M463.50,702.6V707M466.30,702.6V707M469.10,702.6V707M471.90,702.6V707M474.70,702.6V707M477.51,702.6V707M480.31,702.6V707M483.11,702.6V707M485.91,702.6V707M488.71,702.6V707M491.52,702.6V707M494.32,702.6V707M497.12,702.6V707M499.92,702.6V707M502.72,702.6V707M505.53,702.6V707M508.33,702.6V707M511.13,702.6V707M513.93,702.6V707M516.73,702.6V707M519.54,702.6V707M522.34,702.6V707M525.14,702.6V707M527.94,702.6V707M530.74,702.6V707M533.55,702.6V707M536.35,702.6V707M539.15,702.6V707M541.95,702.6V707M544.75,702.6V707M547.56,702.6V707M550.36,702.6V707M553.16,702.6V707M555.96,702.6V707M558.76,702.6V707M561.57,702.6V707" stroke="#c4c9d0" stroke-width="1"/><g font-family="Liberation Sans, sans-serif" font-size="16" fill="#666" text-anchor="middle"><text x="80.62" y="733.6">12</text><text x="114.25" y="733.6">00</text><text x="147.87" y="733.6">12</text><text x="181.49" y="733.6">00</text><text x="215.12" y="733.6">12</text><text x="248.74" y="733.6">00</text><text x="282.37" y="733.6">12</text><text x="315.99" y="733.6">00</text><text x="349.61" y="733.6">12</text><text x="383.24" y="733.6">00</text><text x="416.86" y="733.6">12</text><text x="450.49" y="733.6">00</text><text x="484.11" y="733.6">12</text><text x="517.73" y="733.6">00</text><text x="551.36" y="733.6">12</text></g><text x="229.79" y="760.9" font-family="Liberation Sans, sans-serif" font-size="17.4" fill="#666" textLength="152.66" lengthAdjust="spacingAndGlyphs">Local time (UTC+1)</text><text x="462.0" y="757" font-family="Liberation Sans, sans-serif" font-size="13" fill="#999" textLength="100.33" lengthAdjust="spacingAndGlyphs">wetterzentrale.de</text><g stroke="#000" stroke-width="2.4" fill="none" stroke-linecap="butt"><g transform="translate(57.90,683.8) rotate(143.5)"><path d="M0,-9V14.3M0,13.4h-10M0,9.100000000000001h-5.5"/><path d="M0,-16.2L3.5,-8.8L-3.5,-8.8Z" stroke="none" fill="#000"/></g><g transform="translate(66.31,683.8) rotate(144)"><path d="M0,-9V14.3M0,13.4h-10M0,9.100000000000001h-5.5"/><path d="M0,-16.2L3.5,-8.8L-3.5,-8.8Z" stroke="none" fill="#000"/></g><g transform="translate(74.71,683.8) rotate(143.5)"><path d="M0,-9V14.3M0,13.4h-10M0,9.100000000000001h-5.5"/><path d="M0,-16.2L3.5,-8.8L-3.5,-8.8Z" stroke="none" fill="#000"/></g><g transform="translate(83.12,683.8) rotate(149.8)"><path d="M0,-9V14.3M0,13.4h-10M0,9.100000000000001h-5.5"/><path d="M0,-16.2L3.5,-8.8L-3.5,-8.8Z" stroke="none" fill="#000"/></g><g transform="translate(91.52,683.8) rotate(166.3)"><path d="M0,-9V14.3M0,13.4h-10"/><path d="M0,-16.2L3.5,-8.8L-3.5,-8.8Z" stroke="none" fill="#000"/></g><g transform="translate(99.93,683.8) rotate(170.5)"><path d="M0,-9V14.3M0,11.6h-5.5"/><path d="M0,-16.2L3.5,-8.8L-3.5,-8.8Z" stroke="none" fill="#000"/></g><g transform="translate(108.34,683.8) rotate(182.4)"><path d="M0,-9V14.3M0,11.6h-5.5"/><path d="M0,-16.2L3.5,-8.8L-3.5,-8.8Z" stroke="none" fill="#000"/></g><g transform="translate(116.74,683.8) rotate(190)"><path d="M0,-9V14.3"/><path d="M0,-16.2L3.5,-8.8L-3.5,-8.8Z" stroke="none" fill="#000"/></g><g transform="translate(125.15,683.8) rotate(189.4)"><path d="M0,-9V14.3"/><path d="M0,-16.2L3.5,-8.8L-3.5,-8.8Z" stroke="none" fill="#000"/></g><g transform="translate(133.55,683.8) rotate(0.5)"><path d="M0,-9V14.3M0,11.6h-5.5"/><path d="M0,-16.2L3.5,-8.8L-3.5,-8.8Z" stroke="none" fill="#000"/></g><g transform="translate(141.96,683.8) rotate(4.7)"><path d="M0,-9V14.3M0,11.6h-5.5"/><path d="M0,-16.2L3.5,-8.8L-3.5,-8.8Z" stroke="none" fill="#000"/></g><g transform="translate(150.37,683.8) rotate(1)"><path d="M0,-9V14.3M0,11.6h-5.5"/><path d="M0,-16.2L3.5,-8.8L-3.5,-8.8Z" stroke="none" fill="#000"/></g><g transform="translate(158.77,683.8) rotate(9)"><path d="M0,-9V14.3M0,11.6h-5.5"/><path d="M0,-16.2L3.5,-8.8L-3.5,-8.8Z" stroke="none" fill="#000"/></g><g transform="translate(167.18,683.8) rotate(-21)"><path d="M0,-9V14.3M0,11.6h-5.5"/><path d="M0,-16.2L3.5,-8.8L-3.5,-8.8Z" stroke="none" fill="#000"/></g><g transform="translate(175.58,683.8) rotate(-17)"><path d="M0,-9V14.3M0,13.4h-10"/><path d="M0,-16.2L3.5,-8.8L-3.5,-8.8Z" stroke="none" fill="#000"/></g><g transform="translate(183.99,683.8) rotate(-15.7)"><path d="M0,-9V14.3M0,13.4h-10"/><path d="M0,-16.2L3.5,-8.8L-3.5,-8.8Z" stroke="none" fill="#000"/></g><g transform="translate(192.40,683.8) rotate(-6.8)"><path d="M0,-9V14.3M0,13.4h-10"/><path d="M0,-16.2L3.5,-8.8L-3.5,-8.8Z" stroke="none" fill="#000"/></g><g transform="translate(200.80,683.8) rotate(0)"><path d="M0,-9V14.3M0,11.6h-5.5"/><path d="M0,-16.2L3.5,-8.8L-3.5,-8.8Z" stroke="none" fill="#000"/></g><g transform="translate(209.21,683.8) rotate(11.3)"><path d="M0,-9V14.3M0,11.6h-5.5"/><path d="M0,-16.2L3.5,-8.8L-3.5,-8.8Z" stroke="none" fill="#000"/></g><g transform="translate(217.61,683.8) rotate(10.7)"><path d="M0,-9V14.3M0,11.6h-5.5"/><path d="M0,-16.2L3.5,-8.8L-3.5,-8.8Z" stroke="none" fill="#000"/></g><g transform="translate(226.02,683.8) rotate(69)"><path d="M0,-9V14.3"/><path d="M0,-16.2L3.5,-8.8L-3.5,-8.8Z" stroke="none" fill="#000"/></g><g transform="translate(234.43,683.8) rotate(170.8)"><path d="M0,-9V14.3M0,11.6h-5.5"/><path d="M0,-16.2L3.5,-8.8L-3.5,-8.8Z" stroke="none" fill="#000"/></g><g transform="translate(242.83,683.8) rotate(175.5)"><path d="M0,-9V14.3M0,13.4h-10"/><path d="M0,-16.2L3.5,-8.8L-3.5,-8.8Z" stroke="none" fill="#000"/></g><g transform="translate(251.24,683.8) rotate(179)"><path d="M0,-9V14.3M0,13.4h-10"/><path d="M0,-16.2L3.5,-8.8L-3.5,-8.8Z" stroke="none" fill="#000"/></g><g transform="translate(259.64,683.8) rotate(181)"><path d="M0,-9V14.3M0,13.4h-10"/><path d="M0,-16.2L3.5,-8.8L-3.5,-8.8Z" stroke="none" fill="#000"/></g><g transform="translate(268.05,683.8) rotate(182)"><path d="M0,-9V14.3M0,13.4h-10"/><path d="M0,-16.2L3.5,-8.8L-3.5,-8.8Z" stroke="none" fill="#000"/></g><g transform="translate(276.46,683.8) rotate(171.7)"><path d="M0,-9V14.3M0,13.4h-10"/><path d="M0,-16.2L3.5,-8.8L-3.5,-8.8Z" stroke="none" fill="#000"/></g><g transform="translate(284.86,683.8) rotate(164.7)"><path d="M0,-9V14.3M0,13.4h-10M0,9.100000000000001h-5.5"/><path d="M0,-16.2L3.5,-8.8L-3.5,-8.8Z" stroke="none" fill="#000"/></g><g transform="translate(293.27,683.8) rotate(158)"><path d="M0,-9V14.3M0,13.4h-10M0,9.100000000000001h-5.5"/><path d="M0,-16.2L3.5,-8.8L-3.5,-8.8Z" stroke="none" fill="#000"/></g><g transform="translate(301.67,683.8) rotate(156)"><path d="M0,-9V14.3M0,13.4h-10M0,9.100000000000001h-5.5"/><path d="M0,-16.2L3.5,-8.8L-3.5,-8.8Z" stroke="none" fill="#000"/></g><g transform="translate(310.08,683.8) rotate(159)"><path d="M0,-9V14.3M0,13.4h-10M0,9.100000000000001h-5.5"/><path d="M0,-16.2L3.5,-8.8L-3.5,-8.8Z" stroke="none" fill="#000"/></g><g transform="translate(318.49,683.8) rotate(166)"><path d="M0,-9V14.3M0,13.4h-10M0,9.100000000000001h-5.5"/><path d="M0,-16.2L3.5,-8.8L-3.5,-8.8Z" stroke="none" fill="#000"/></g><g transform="translate(326.89,683.8) rotate(172)"><path d="M0,-9V14.3M0,13.4h-10M0,9.100000000000001h-5.5"/><path d="M0,-16.2L3.5,-8.8L-3.5,-8.8Z" stroke="none" fill="#000"/></g><g transform="translate(335.30,683.8) rotate(172.6)"><path d="M0,-9V14.3M0,13.4h-10M0,9.100000000000001h-5.5"/><path d="M0,-16.2L3.5,-8.8L-3.5,-8.8Z" stroke="none" fill="#000"/></g><g transform="translate(343.70,683.8) rotate(174)"><path d="M0,-9V14.3M0,13.4h-10M0,9.100000000000001h-5.5"/><path d="M0,-16.2L3.5,-8.8L-3.5,-8.8Z" stroke="none" fill="#000"/></g><g transform="translate(352.11,683.8) rotate(174)"><path d="M0,-9V14.3M0,13.4h-10M0,9.100000000000001h-5.5"/><path d="M0,-16.2L3.5,-8.8L-3.5,-8.8Z" stroke="none" fill="#000"/></g><g transform="translate(360.52,683.8) rotate(172)"><path d="M0,-9V14.3M0,13.4h-10M0,9.100000000000001h-5.5"/><path d="M0,-16.2L3.5,-8.8L-3.5,-8.8Z" stroke="none" fill="#000"/></g><g transform="translate(368.92,683.8) rotate(167)"><path d="M0,-9V14.3M0,13.4h-10M0,9.100000000000001h-5.5"/><path d="M0,-16.2L3.5,-8.8L-3.5,-8.8Z" stroke="none" fill="#000"/></g><g transform="translate(377.33,683.8) rotate(166.6)"><path d="M0,-9V14.3M0,13.4h-10M0,9.100000000000001h-5.5"/><path d="M0,-16.2L3.5,-8.8L-3.5,-8.8Z" stroke="none" fill="#000"/></g><g transform="translate(385.73,683.8) rotate(161.5)"><path d="M0,-9V14.3M0,13.4h-10"/><path d="M0,-16.2L3.5,-8.8L-3.5,-8.8Z" stroke="none" fill="#000"/></g><g transform="translate(394.14,683.8) rotate(155)"><path d="M0,-9V14.3M0,13.4h-10"/><path d="M0,-16.2L3.5,-8.8L-3.5,-8.8Z" stroke="none" fill="#000"/></g><g transform="translate(402.55,683.8) rotate(149.6)"><path d="M0,-9V14.3M0,13.4h-10"/><path d="M0,-16.2L3.5,-8.8L-3.5,-8.8Z" stroke="none" fill="#000"/></g><g transform="translate(410.95,683.8) rotate(146)"><path d="M0,-9V14.3M0,13.4h-10"/><path d="M0,-16.2L3.5,-8.8L-3.5,-8.8Z" stroke="none" fill="#000"/></g><g transform="translate(419.36,683.8) rotate(127)"><path d="M0,-9V14.3M0,11.6h-5.5"/><path d="M0,-16.2L3.5,-8.8L-3.5,-8.8Z" stroke="none" fill="#000"/></g><g transform="translate(427.76,683.8) rotate(95)"><path d="M0,-9V14.3M0,11.6h-5.5"/><path d="M0,-16.2L3.5,-8.8L-3.5,-8.8Z" stroke="none" fill="#000"/></g><g transform="translate(436.17,683.8) rotate(82)"><path d="M0,-9V14.3M0,11.6h-5.5"/><path d="M0,-16.2L3.5,-8.8L-3.5,-8.8Z" stroke="none" fill="#000"/></g><g transform="translate(444.58,683.8) rotate(55)"><path d="M0,-9V14.3M0,11.6h-5.5"/><path d="M0,-16.2L3.5,-8.8L-3.5,-8.8Z" stroke="none" fill="#000"/></g><g transform="translate(452.98,683.8) rotate(38)"><path d="M0,-9V14.3M0,11.6h-5.5"/><path d="M0,-16.2L3.5,-8.8L-3.5,-8.8Z" stroke="none" fill="#000"/></g><g transform="translate(461.39,683.8) rotate(2)"><path d="M0,-9V14.3M0,13.4h-10"/><path d="M0,-16.2L3.5,-8.8L-3.5,-8.8Z" stroke="none" fill="#000"/></g><g transform="translate(469.79,683.8) rotate(-5.5)"><path d="M0,-9V14.3M0,13.4h-10"/><path d="M0,-16.2L3.5,-8.8L-3.5,-8.8Z" stroke="none" fill="#000"/></g><g transform="translate(478.20,683.8) rotate(-9.7)"><path d="M0,-9V14.3M0,13.4h-10"/><path d="M0,-16.2L3.5,-8.8L-3.5,-8.8Z" stroke="none" fill="#000"/></g><g transform="translate(486.61,683.8) rotate(137)"><path d="M0,-9V14.3"/><path d="M0,-16.2L3.5,-8.8L-3.5,-8.8Z" stroke="none" fill="#000"/></g><g transform="translate(495.01,683.8) rotate(93)"><path d="M0,-9V14.3"/><path d="M0,-16.2L3.5,-8.8L-3.5,-8.8Z" stroke="none" fill="#000"/></g><g transform="translate(503.42,683.8) rotate(50)"><path d="M0,-9V14.3"/><path d="M0,-16.2L3.5,-8.8L-3.5,-8.8Z" stroke="none" fill="#000"/></g><g transform="translate(511.82,683.8) rotate(198)"><path d="M0,-9V14.3"/><path d="M0,-16.2L3.5,-8.8L-3.5,-8.8Z" stroke="none" fill="#000"/></g><g transform="translate(520.23,683.8) rotate(174)"><path d="M0,-9V14.3M0,13.4h-10"/><path d="M0,-16.2L3.5,-8.8L-3.5,-8.8Z" stroke="none" fill="#000"/></g><g transform="translate(528.64,683.8) rotate(158.5)"><path d="M0,-9V14.3M0,13.4h-10"/><path d="M0,-16.2L3.5,-8.8L-3.5,-8.8Z" stroke="none" fill="#000"/></g><g transform="translate(537.04,683.8) rotate(138)"><path d="M0,-9V14.3M0,13.4h-10"/><path d="M0,-16.2L3.5,-8.8L-3.5,-8.8Z" stroke="none" fill="#000"/></g><g transform="translate(545.45,683.8) rotate(123)"><path d="M0,-9V14.3M0,13.4h-10"/><path d="M0,-16.2L3.5,-8.8L-3.5,-8.8Z" stroke="none" fill="#000"/></g><g transform="translate(553.85,683.8) rotate(114.6)"><path d="M0,-9V14.3M0,11.6h-5.5"/><path d="M0,-16.2L3.5,-8.8L-3.5,-8.8Z" stroke="none" fill="#000"/></g><g transform="translate(562.26,683.8) rotate(74.5)"><path d="M0,-9V14.3"/><path d="M0,-16.2L3.5,-8.8L-3.5,-8.8Z" stroke="none" fill="#000"/></g></g></svg></body></html>
